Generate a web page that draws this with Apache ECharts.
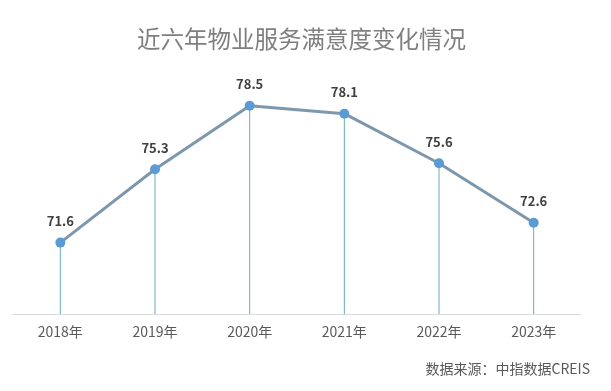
<!DOCTYPE html>
<html><head><meta charset="utf-8">
<script src="https://cdn.jsdelivr.net/npm/echarts@6/dist/echarts.min.js"></script>
<style>html,body{margin:0;padding:0;background:#fff}#c{width:611px;height:391px}</style>
</head><body><div id="c"></div>
<script>
const categories = ['2018年','2019年','2020年','2021年','2022年','2023年'];
const values = [71.6, 75.3, 78.5, 78.1, 75.6, 72.6];
const titleText = '近六年物业服务满意度变化情况';
const sourceText = '数据来源：中指数据CREIS';
const font = '"Noto Sans CJK SC", "Noto Sans", sans-serif';
const chart = echarts.init(document.getElementById('c'));
chart.setOption({
  animation: false,
  backgroundColor: '#fff',
  title: {text: titleText, left: 132, top: 22, textStyle: {fontFamily: font, fontSize: 23.5, fontWeight: 'normal', color: '#7f7f7f'}},
  graphic: [{type: 'text', right: 21, top: 362, style: {text: sourceText, font: '14px ' + font, fill: '#595959'}}],
  grid: {left: 13, right: 30, top: 76, bottom: 77},
  xAxis: {type: 'category', data: categories, boundaryGap: true,
    axisLine: {lineStyle: {color: '#d9d9d9', width: 1}}, axisTick: {show: false},
    axisLabel: {color: '#595959', fontSize: 14, fontFamily: font, margin: 11}},
  yAxis: {type: 'value', min: 68, max: 80, show: false, splitLine: {show: false}},
  series: [
    {type: 'bar', data: values, barWidth: 1, itemStyle: {color: '#6aaac2'}, z: 1},
    {type: 'line', data: values, symbol: 'circle', symbolSize: 10,
      lineStyle: {color: '#7d98ad', width: 3}, itemStyle: {color: '#5b9bd5'}, z: 3,
      label: {show: true, position: 'top', distance: 10, color: '#404040', fontWeight: 'bold', fontSize: 13, fontFamily: font}}
  ]
});
</script></body></html>
